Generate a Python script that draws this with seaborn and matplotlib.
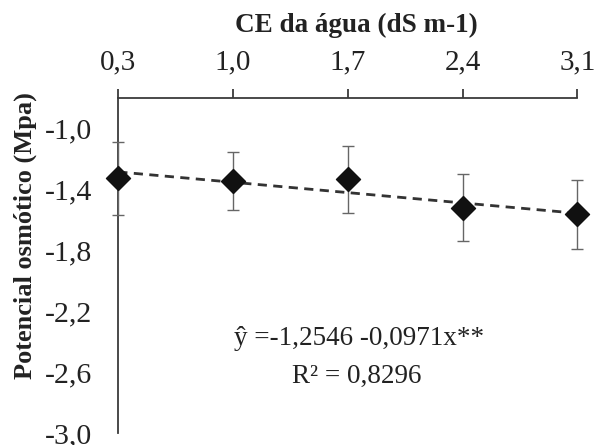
import matplotlib
matplotlib.use("Agg")
import matplotlib.pyplot as plt
import seaborn as sns
import pandas as pd
import numpy as np

# ---- data ----
ce_values = [0.3, 1.0, 1.7, 2.4, 3.1]
x_tick_labels = ["0,3", "1,0", "1,7", "2,4", "3,1"]
potencial = [-1.324, -1.344, -1.333, -1.518, -1.562]
erro = [0.24, 0.19, 0.22, 0.22, 0.226]
y_ticks = [-1.0, -1.4, -1.8, -2.2, -2.6, -3.0]
y_tick_labels = ["-1,0", "-1,4", "-1,8", "-2,2", "-2,6", "-3,0"]
intercepto = -1.2546
inclinacao = -0.0971
eq_text = "ŷ =-1,2546 -0,0971x**"
r2_text = "R² = 0,8296"

sns.set_style("white")
plt.rcParams["font.family"] = ["Liberation Serif", "DejaVu Serif"]

df = pd.DataFrame({"CE": ce_values, "Psi": potencial})
trend = pd.DataFrame({"CE": [ce_values[0], ce_values[-1]]})
trend["Psi"] = intercepto + inclinacao * trend["CE"]

fig = plt.figure(figsize=(5.96, 4.45), dpi=100)
ax = fig.add_axes([0.1985, 0.027, 0.9686 - 0.1985, 0.779 - 0.027])

axis_color = "#3a3a3a"
text_color = "#222222"

sns.lineplot(data=trend, x="CE", y="Psi", ax=ax, color="#333333",
             linewidth=2.0, linestyle=(0, (3.3, 2.3)), zorder=2)
ax.errorbar(ce_values, potencial, yerr=erro, fmt="none", ecolor="#666666",
            elinewidth=1.0, capsize=4.3, capthick=1.0, zorder=3, clip_on=False)
sns.scatterplot(data=df, x="CE", y="Psi", ax=ax, marker="D", s=150,
                color="#111111", edgecolor="#111111", zorder=4, clip_on=False)

ax.set_xlim(0.3, 3.1)
ax.set_ylim(-3.0, -0.8)
ax.set_xticks(ce_values)
ax.set_xticklabels(x_tick_labels)
ax.set_yticks(y_ticks)
ax.set_yticklabels(y_tick_labels)

ax.xaxis.tick_top()
ax.xaxis.set_label_position("top")
for s in ["right", "bottom"]:
    ax.spines[s].set_visible(False)
for s in ["top", "left"]:
    ax.spines[s].set_color(axis_color)
    ax.spines[s].set_linewidth(1.3)

ax.tick_params(axis="x", direction="out", length=6.5, width=1.3, color=axis_color,
               labelsize=21, labelcolor=text_color, pad=10, top=True, bottom=False)
ax.tick_params(axis="y", direction="out", length=7, width=1.3, color=axis_color,
               labelsize=21.5, labelcolor=text_color, pad=12)

ax.set_xlabel("CE da água (dS m-1)", fontsize=19.5, fontweight="bold",
              color=text_color)
ax.xaxis.set_label_coords(0.518, 1.198)
ax.set_ylabel("Potencial osmótico (Mpa)", fontsize=19, fontweight="bold",
              color=text_color)
ax.yaxis.set_label_coords(-0.177, 0.59)

ax.text(0.525, 0.263, eq_text, transform=ax.transAxes,
        ha="center", va="baseline", fontsize=19.5, color=text_color)
ax.text(0.52, 0.149, r2_text, transform=ax.transAxes,
        ha="center", va="baseline", fontsize=19.5, color=text_color)

fig.savefig("out.png", dpi=100)
